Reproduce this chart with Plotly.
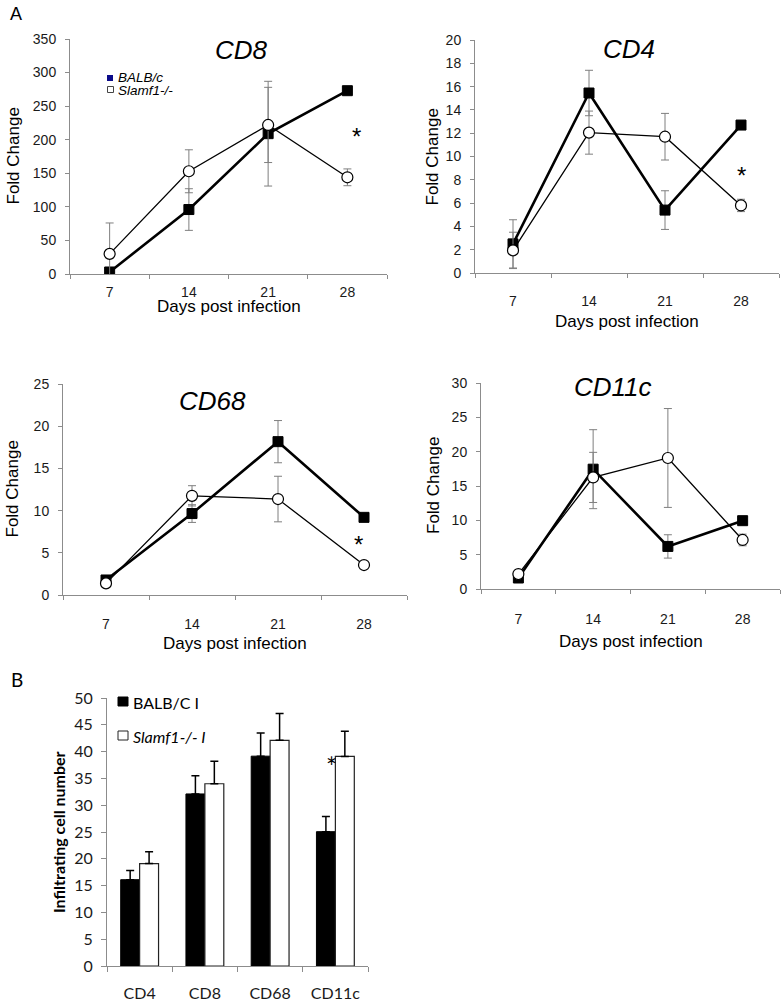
import plotly.graph_objects as go

W, H = 784, 1003

# ---------------- data ----------------
days = ["7", "14", "21", "28"]

cd8_balb = [3, 96, 209, 273]
cd8_balb_err = [2, 31, 78, 3]
cd8_slam = [30, 153, 222, 144]
cd8_slam_err = [46, 32, 56, 12.5]

cd4_balb = [2.5, 15.45, 5.4, 12.7]
cd4_balb_err = [2.07, 1.95, 1.66, 0.3]
cd4_slam = [1.94, 12.05, 11.7, 5.8]
cd4_slam_err = [1.56, 1.85, 2.0, 0.53]

cd68_balb = [1.78, 9.65, 18.17, 9.2]
cd68_balb_err = [0.3, 1.05, 2.5, 0.3]
cd68_slam = [1.38, 11.75, 11.37, 3.55]
cd68_slam_err = [0.2, 1.2, 2.7, 0.2]

cd11c_balb = [1.6, 17.45, 6.2, 9.95]
cd11c_balb_err = [0.3, 5.75, 1.7, 0.4]
cd11c_slam = [2.18, 16.25, 19.08, 7.14]
cd11c_slam_err = [0.3, 3.65, 7.2, 0.85]

cell_types = ["CD4", "CD8", "CD68", "CD11c"]
bar_balb = [16.1, 32.1, 39.15, 25.06]
bar_balb_err = [1.7, 3.4, 4.3, 2.85]
bar_slam = [19.1, 34.0, 42.1, 39.1]
bar_slam_err = [2.2, 4.2, 5.0, 4.7]

# ---------------- helpers ----------------
def px(x):
    return x / W

def py(y):
    return 1 - y / H

LINE_FONT = "Liberation Sans, Arial, sans-serif"
BAR_FONT = "Lato, Open Sans, sans-serif"
AXC = "#8c8c8c"

fig = go.Figure()

panels = [
    dict(name="CD8", xa="x", ya="y", xd=(70, 387), yd=(274, 39), yr=350, dt=50,
         b=cd8_balb, be=cd8_balb_err, s=cd8_slam, se=cd8_slam_err, so=5,
         title_xy=(241, 50), xt_y=306, yt_x=13),
    dict(name="CD4", xa="x2", ya="y2", xd=(475, 779), yd=(273, 40), yr=20, dt=2,
         b=cd4_balb, be=cd4_balb_err, s=cd4_slam, se=cd4_slam_err, so=15,
         title_xy=(629, 49), xt_y=322, yt_x=432),
    dict(name="CD68", xa="x3", ya="y3", xd=(63, 407), yd=(595, 384), yr=25, dt=5,
         b=cd68_balb, be=cd68_balb_err, s=cd68_slam, se=cd68_slam_err, so=16,
         title_xy=(212, 401), xt_y=643, yt_x=12),
    dict(name="CD11c", xa="x4", ya="y4", xd=(481, 780), yd=(589, 383), yr=30, dt=5,
         b=cd11c_balb, be=cd11c_balb_err, s=cd11c_slam, se=cd11c_slam_err, so=17,
         title_xy=(613, 387), xt_y=641, yt_x=433),
]

layout_axes = {}
annotations = []
shapes = []


def note(text, x, y, xref="paper", yref="paper", xanchor="center", **kw):
    d = dict(text=text, x=x, y=y, xref=xref, yref=yref, showarrow=False,
             xanchor=xanchor, yanchor="middle")
    d.update(kw)
    annotations.append(d)


for i, p in enumerate(panels):
    fig.add_trace(go.Scatter(
        x=days, y=p["b"], xaxis=p["xa"], yaxis=p["ya"], mode="lines+markers",
        line=dict(color="black", width=2.6),
        marker=dict(symbol="square", size=10, color="black", line=dict(color="black", width=1)),
        error_y=dict(type="data", array=p["be"], visible=True, color="#7f7f7f", thickness=1, width=4),
        showlegend=False, name="BALB/c"))
    fig.add_trace(go.Scatter(
        x=days, y=p["s"], xaxis=p["xa"], yaxis=p["ya"], mode="lines+markers",
        line=dict(color="black", width=1.3),
        marker=dict(symbol="circle", size=11, color="white", line=dict(color="black", width=1.2)),
        error_y=dict(type="data", array=p["se"], visible=True, color="#7f7f7f", thickness=1, width=4),
        showlegend=False, name="Slamf1-/-"))
    xk = "xaxis" if i == 0 else f"xaxis{i+1}"
    yk = "yaxis" if i == 0 else f"yaxis{i+1}"
    layout_axes[xk] = dict(
        domain=[px(p["xd"][0]), px(p["xd"][1])], anchor=p["ya"], automargin=False,
        type="category", range=[-0.5, 3.5], tickson="boundaries",
        showline=True, linecolor=AXC, linewidth=1, ticks="outside", ticklen=4, tickcolor=AXC,
        showgrid=False, zeroline=False, ticklabelstandoff=p["so"],
        tickfont=dict(family=LINE_FONT, size=14, color="#1a1a1a"))
    layout_axes[yk] = dict(
        domain=[py(p["yd"][0]), py(p["yd"][1])], anchor=p["xa"], automargin=False,
        range=[0, p["yr"]], dtick=p["dt"], tick0=0,
        showline=True, linecolor=AXC, linewidth=1, ticks="outside", ticklen=4, tickcolor=AXC,
        showgrid=False, zeroline=False, ticklabelstandoff=6,
        tickfont=dict(family=LINE_FONT, size=14, color="#1a1a1a"))
    note(p["name"], px(p["title_xy"][0]), py(p["title_xy"][1]),
         font=dict(family=LINE_FONT, size=26, color="black", style="italic"))
    note("Days post infection", px((p["xd"][0] + p["xd"][1]) / 2), py(p["xt_y"]),
         font=dict(family=LINE_FONT, size=17, color="black"))
    note("Fold Change", px(p["yt_x"]), py((p["yd"][0] + p["yd"][1]) / 2), textangle=-90,
         font=dict(family=LINE_FONT, size=17, color="black"))

for xa, ya, xv, yv in [("x", "y", 3.11, 211.5), ("x2", "y2", 3.01, 8.84), ("x3", "y3", 2.94, 6.52)]:
    note("*", xv, yv, xref=xa, yref=ya, yshift=-5,
         font=dict(family=LINE_FONT, size=24, color="black"))

# CD8 legend
shapes.append(dict(type="rect", xref="paper", yref="paper",
                   x0=px(107), x1=px(113), y0=py(81), y1=py(75),
                   fillcolor="#0b0b8a", line=dict(width=0)))
shapes.append(dict(type="rect", xref="paper", yref="paper",
                   x0=px(107.5), x1=px(113.5), y0=py(92.5), y1=py(86.5),
                   fillcolor="white", line=dict(color="#444", width=1)))
note("BALB/c", px(116), py(77.5), xanchor="left",
     font=dict(family=LINE_FONT, size=13.5, color="black", style="italic"))
note("Slamf1-/-", px(116), py(90), xanchor="left",
     font=dict(family=LINE_FONT, size=13.5, color="black", style="italic"))

# ---------------- bar chart ----------------
fig.add_trace(go.Bar(
    x=cell_types, y=bar_balb, xaxis="x5", yaxis="y5", name="BALB/C I",
    marker=dict(color="black", line=dict(color="black", width=1)),
    error_y=dict(type="data", array=bar_balb_err, arrayminus=[0] * 4, symmetric=False,
                 visible=True, color="black", thickness=1.5, width=4),
    showlegend=False))
fig.add_trace(go.Bar(
    x=cell_types, y=bar_slam, xaxis="x5", yaxis="y5", name="Slamf1-/- I",
    marker=dict(color="white", line=dict(color="#222", width=1.2)),
    error_y=dict(type="data", array=bar_slam_err, arrayminus=[0] * 4, symmetric=False,
                 visible=True, color="black", thickness=1.5, width=4),
    showlegend=False))

layout_axes["xaxis5"] = dict(
    domain=[px(107), px(368)], anchor="y5", type="category", range=[-0.5, 3.5], automargin=False,
    tickson="boundaries", showline=True, linecolor=AXC, linewidth=1, ticks="outside",
    ticklen=5, tickcolor=AXC, showgrid=False, zeroline=False, ticklabelstandoff=13,
    tickfont=dict(family=BAR_FONT, size=16, color="#1a1a1a"))
layout_axes["yaxis5"] = dict(
    domain=[py(966), py(698)], anchor="x5", range=[0, 50], dtick=5, tick0=0, automargin=False,
    showline=True, linecolor=AXC, linewidth=1, ticks="outside", ticklen=5, tickcolor=AXC,
    showgrid=False, zeroline=False, ticklabelstandoff=5,
    tickfont=dict(family=BAR_FONT, size=16, color="#1a1a1a"))

note("<b>Infiltrating cell number</b>", px(58), py(832), textangle=-90,
     font=dict(family=BAR_FONT, size=16, color="black"))
note("*", 2.948, 38.06, xref="x5", yref="y5", yshift=-5,
     font=dict(family=BAR_FONT, size=26, color="black"))

shapes.append(dict(type="rect", xref="paper", yref="paper",
                   x0=px(118), x1=px(128), y0=py(706), y1=py(697),
                   fillcolor="black", line=dict(color="black", width=1)))
shapes.append(dict(type="rect", xref="paper", yref="paper",
                   x0=px(118), x1=px(128), y0=py(740), y1=py(731),
                   fillcolor="white", line=dict(color="#222", width=1)))
note("BALB/C I", px(131), py(702), xanchor="left",
     font=dict(family=BAR_FONT, size=16, color="black"))
note("<i>Slamf1-/- I</i>", px(131), py(736), xanchor="left",
     font=dict(family=BAR_FONT, size=16, color="black"))

note("A", px(16), py(14), font=dict(family=LINE_FONT, size=18, color="black"))
note("B", px(17), py(679), font=dict(family=BAR_FONT, size=19, color="black"))

fig.update_layout(
    width=W, height=H, margin=dict(l=0, r=0, t=0, b=0, autoexpand=False),
    paper_bgcolor="white", plot_bgcolor="white",
    barmode="group", bargap=0.42, bargroupgap=0,
    annotations=annotations, shapes=shapes, showlegend=False,
    **layout_axes)

fig.write_html("out.html", config={"displayModeBar": False},
               post_script="document.body.style.margin='0px';")
